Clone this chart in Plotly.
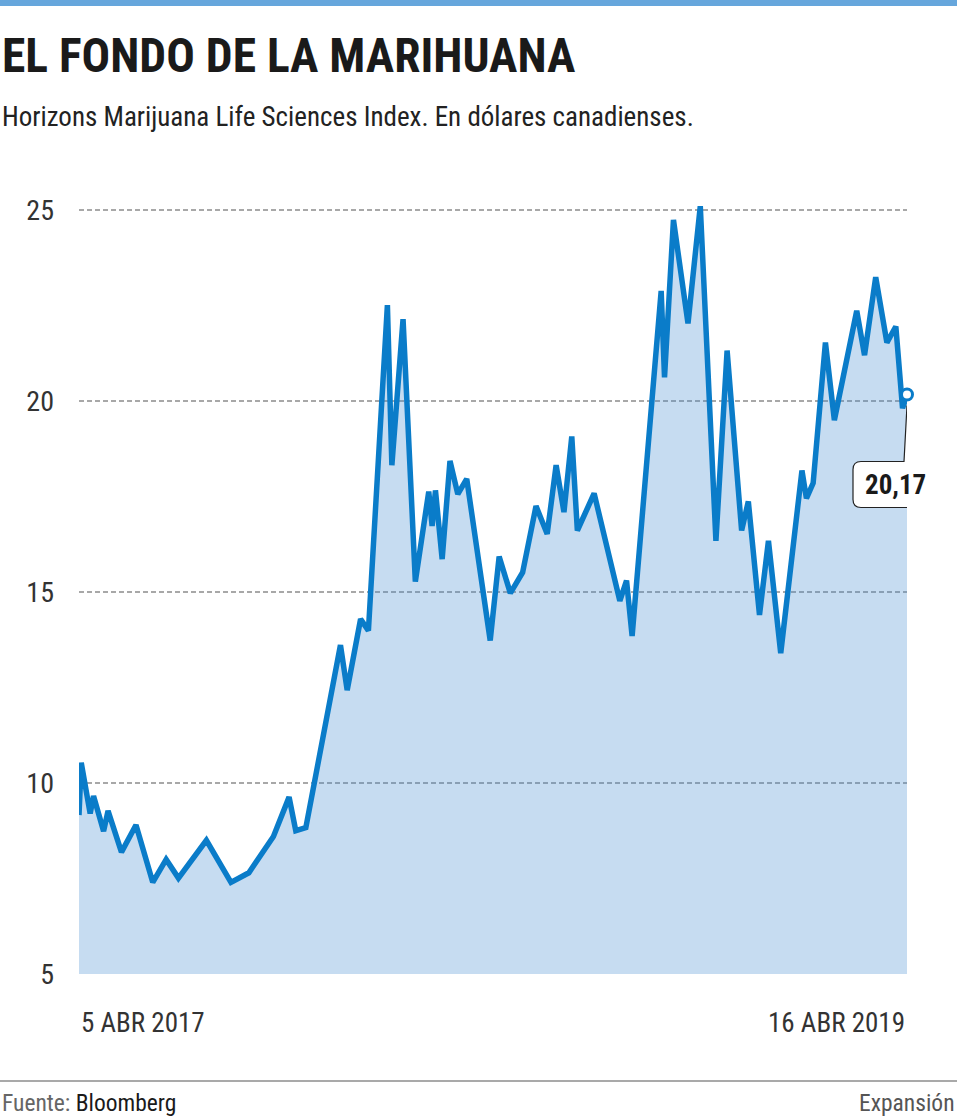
import plotly.graph_objects as go

# ---- data ----
dates = [
    "2017-04-05", "2017-04-07", "2017-04-15", "2017-04-18", "2017-04-27", "2017-05-01",
    "2017-05-13", "2017-05-26", "2017-06-10", "2017-06-22", "2017-07-03", "2017-07-28",
    "2017-08-19", "2017-09-04", "2017-09-26", "2017-10-10", "2017-10-16", "2017-10-25",
    "2017-11-25", "2017-12-01", "2017-12-13", "2017-12-20", "2018-01-06", "2018-01-10",
    "2018-01-20", "2018-01-31", "2018-02-12", "2018-02-15", "2018-02-18", "2018-02-24",
    "2018-03-03", "2018-03-10", "2018-03-18", "2018-04-08", "2018-04-16", "2018-04-26",
    "2018-05-07", "2018-05-19", "2018-05-29", "2018-06-06", "2018-06-13", "2018-06-20",
    "2018-06-25", "2018-07-10", "2018-08-02", "2018-08-08", "2018-08-13", "2018-09-08",
    "2018-09-11", "2018-09-19", "2018-10-02", "2018-10-13", "2018-10-27", "2018-11-06",
    "2018-11-19", "2018-11-25", "2018-12-05", "2018-12-13", "2018-12-24", "2019-01-12",
    "2019-01-16", "2019-01-22", "2019-02-02", "2019-02-10", "2019-03-02", "2019-03-09",
    "2019-03-19", "2019-03-29", "2019-04-06", "2019-04-12", "2019-04-16",
]
values = [
    9.16, 10.53, 9.20, 9.66, 8.74, 9.27,
    8.19, 8.90, 7.40, 8.00, 7.51, 8.50,
    7.40, 7.65, 8.60, 9.63, 8.75, 8.83,
    13.61, 12.43, 14.29, 13.99, 22.51, 18.32,
    22.14, 15.27, 17.63, 16.73, 17.66, 15.86,
    18.43, 17.56, 17.96, 13.73, 15.93, 14.97,
    15.51, 17.25, 16.52, 18.32, 17.09, 19.07,
    16.61, 17.58, 14.77, 15.30, 13.85, 22.88,
    20.62, 24.74, 22.03, 25.10, 16.34, 21.32,
    16.61, 17.37, 14.40, 16.34, 13.40, 18.18,
    17.45, 17.85, 21.53, 19.50, 22.36, 21.20,
    23.24, 21.53, 21.95, 19.81, 20.17,
]
y_ticks = [5, 10, 15, 20, 25]
x_labels = ["5 ABR 2017", "16 ABR 2019"]
last_label = "20,17"

title = "EL FONDO DE LA MARIHUANA"
subtitle = "Horizons Marijuana Life Sciences Index. En dólares canadienses."
source_label = "Fuente: "
source_name = "Bloomberg"
brand = "Expansión"

# ---- style ----
FONT = "Roboto Condensed, Roboto, Liberation Sans Narrow, sans-serif"
LINE = "#0a7cc9"
FILL = "rgba(65,138,208,0.3)"   # light blue, lets the dashed grid show through
W, H = 957, 1120
ML, MR, MT, MB = 79, 50, 187, 146
PH = H - MT - MB
PW = W - ML - MR
PX_PER_UNIT = 38.2


def py(pix):  # pixel y (from top) -> paper y
    return (H - MB - pix) / PH


def px(pix):  # pixel x (from left) -> paper x
    return (pix - ML) / PW


fig = go.Figure()
fig.add_trace(go.Scatter(
    x=dates, y=values, mode="lines", fill="tozeroy",
    fillcolor=FILL, line=dict(color=LINE, width=5.5),
    hoverinfo="skip", showlegend=False,
))
fig.add_trace(go.Scatter(
    x=[dates[-1]], y=[values[-1]], mode="markers",
    marker=dict(size=11, color="white", line=dict(color=LINE, width=3)),
    hoverinfo="skip", showlegend=False, cliponaxis=False,
))

# callout box with wedge (pixel offsets around last point)
r = 8
L, R, T, B = -54, 29, -67, -113
wl, wr, tipx, tipy = -3, 11, 0, -11
path = (
    f"M {L + r},{T} L {wl},{T} L {tipx},{tipy} L {wr},{T} L {R - r},{T} "
    f"Q {R},{T} {R},{T - r} L {R},{B + r} Q {R},{B} {R - r},{B} "
    f"L {L + r},{B} Q {L},{B} {L},{B + r} L {L},{T - r} Q {L},{T} {L + r},{T} Z"
)
fig.add_shape(
    type="path", path=path, xref="x", yref="y",
    xsizemode="pixel", ysizemode="pixel",
    xanchor=dates[-1], yanchor=values[-1],
    line=dict(color="#222222", width=1.2), fillcolor="white", layer="above",
)

annotations = [
    dict(x=dates[-1], y=values[-1], xref="x", yref="y", text=f"<b>{last_label}</b>",
         showarrow=False, xshift=-12, yshift=-90,
         font=dict(family=FONT, size=27, color="#1a1a1a")),
    dict(x=dates[0], y=py(1023), xref="x", yref="paper", text=x_labels[0],
         showarrow=False, xanchor="left", yanchor="middle",
         font=dict(family=FONT, size=27, color="#333333")),
    dict(x=dates[-1], y=py(1023), xref="x", yref="paper", text=x_labels[1],
         showarrow=False, xanchor="right", yanchor="middle",
         font=dict(family=FONT, size=27, color="#333333")),
    dict(x=px(0), y=py(56), xref="paper", yref="paper", text=f"<b>{title}</b>",
         showarrow=False, xanchor="left", yanchor="middle",
         font=dict(family=FONT, size=47.5, color="#1a1a1a")),
    dict(x=px(0), y=py(117), xref="paper", yref="paper", text=subtitle,
         showarrow=False, xanchor="left", yanchor="middle",
         font=dict(family=FONT, size=27, color="#222222")),
    dict(x=px(0), y=py(1103), xref="paper", yref="paper",
         text=f"<span style='color:#666666'>{source_label}</span><span style='color:#1a1a1a'>{source_name}</span>",
         showarrow=False, xanchor="left", yanchor="middle",
         font=dict(family=FONT, size=23.5, color="#222222")),
    dict(x=px(W), y=py(1103), xref="paper", yref="paper", text=brand,
         showarrow=False, xanchor="right", yanchor="middle",
         font=dict(family=FONT, size=23.5, color="#555555")),
]

shapes = [
    dict(type="rect", xref="paper", yref="paper", x0=px(0), x1=px(W), y0=py(6), y1=py(0),
         fillcolor="#66a6dc", line=dict(width=0), layer="above"),
    dict(type="line", xref="paper", yref="paper", x0=px(0), x1=px(W), y0=py(1081), y1=py(1081),
         line=dict(color="#555555", width=1.2)),
]

fig.update_layout(
    width=W, height=H,
    margin=dict(l=ML, r=MR, t=MT, b=MB),
    paper_bgcolor="white", plot_bgcolor="white",
    annotations=annotations,
    xaxis=dict(type="date", range=[dates[0], dates[-1]], showgrid=False,
               showticklabels=False, zeroline=False, showline=False, ticks=""),
    yaxis=dict(range=[5, 5 + PH / PX_PER_UNIT], tickvals=y_ticks,
               ticktext=[str(v) for v in y_ticks],
               showgrid=True, gridcolor="#a8a8a8", griddash="5px,3px", gridwidth=1.5,
               zeroline=False, showline=False, ticks="", ticklabelstandoff=24,
               tickfont=dict(family=FONT, size=28, color="#333333")),
    font=dict(family=FONT),
)
for s in shapes:
    fig.add_shape(**s)

fig.write_html(
    "out.html",
    config={"displayModeBar": False},
    post_script="document.body.style.margin='0';document.body.style.overflow='hidden';",
)
